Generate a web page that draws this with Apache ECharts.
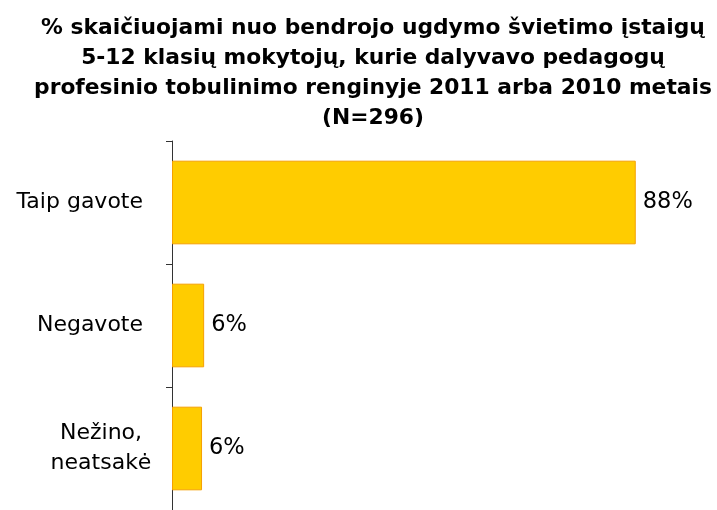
<!DOCTYPE html>
<html>
<head>
<meta charset="utf-8">
<script src="https://cdn.jsdelivr.net/npm/echarts@6/dist/echarts.min.js"></script>
<style>html,body{margin:0;padding:0;background:#fff}#c{width:717px;height:510px}</style>
</head>
<body>
<div id="c"></div>
<script>
var titleText = '% skaičiuojami nuo bendrojo ugdymo švietimo įstaigų\n5-12 klasių mokytojų, kurie dalyvavo pedagogų\nprofesinio tobulinimo renginyje 2011 arba 2010 metais\n(N=296)';
var categories = ['Taip gavote', 'Negavote', 'Nežino,\nneatsakė'];
var values = [88, 6.1, 5.7];

var chart = echarts.init(document.getElementById('c'));
chart.setOption({
  animation: false,
  title: {
    text: titleText,
    left: 373,
    top: 13,
    padding: 0,
    textAlign: 'center',
    textStyle: {
      fontFamily: 'DejaVu Sans',
      fontWeight: 'bold',
      fontSize: 21.8,
      lineHeight: 30,
      color: '#000'
    }
  },
  grid: { left: 172, right: 18, top: 141, bottom: 0, containLabel: false },
  xAxis: {
    type: 'value', min: 0, max: 100, show: false
  },
  yAxis: {
    type: 'category',
    inverse: true,
    data: categories.map(function (c, i) {
      if (i === 2) return { value: c, textStyle: { align: 'center', padding: [0, 84, 0, 0] } };
      return c;
    }),
    axisLine: { show: true, lineStyle: { color: '#333', width: 1 } },
    axisTick: { show: true, length: 6, lineStyle: { color: '#333' } },
    axisLabel: {
      margin: 29,
      fontFamily: 'DejaVu Sans',
      fontSize: 22,
      lineHeight: 30,
      color: '#000'
    }
  },
  series: [{
    type: 'bar',
    data: values,
    barWidth: '68%',
    itemStyle: { color: '#FFCC00', borderColor: '#F5A000', borderWidth: 1 },
    label: {
      show: true,
      position: 'right',
      distance: 7,
      fontFamily: 'DejaVu Sans',
      fontSize: 22.5,
      color: '#000',
      formatter: function (p) { return Math.round(p.value) + '%'; }
    }
  }]
});
</script>
</body>
</html>
